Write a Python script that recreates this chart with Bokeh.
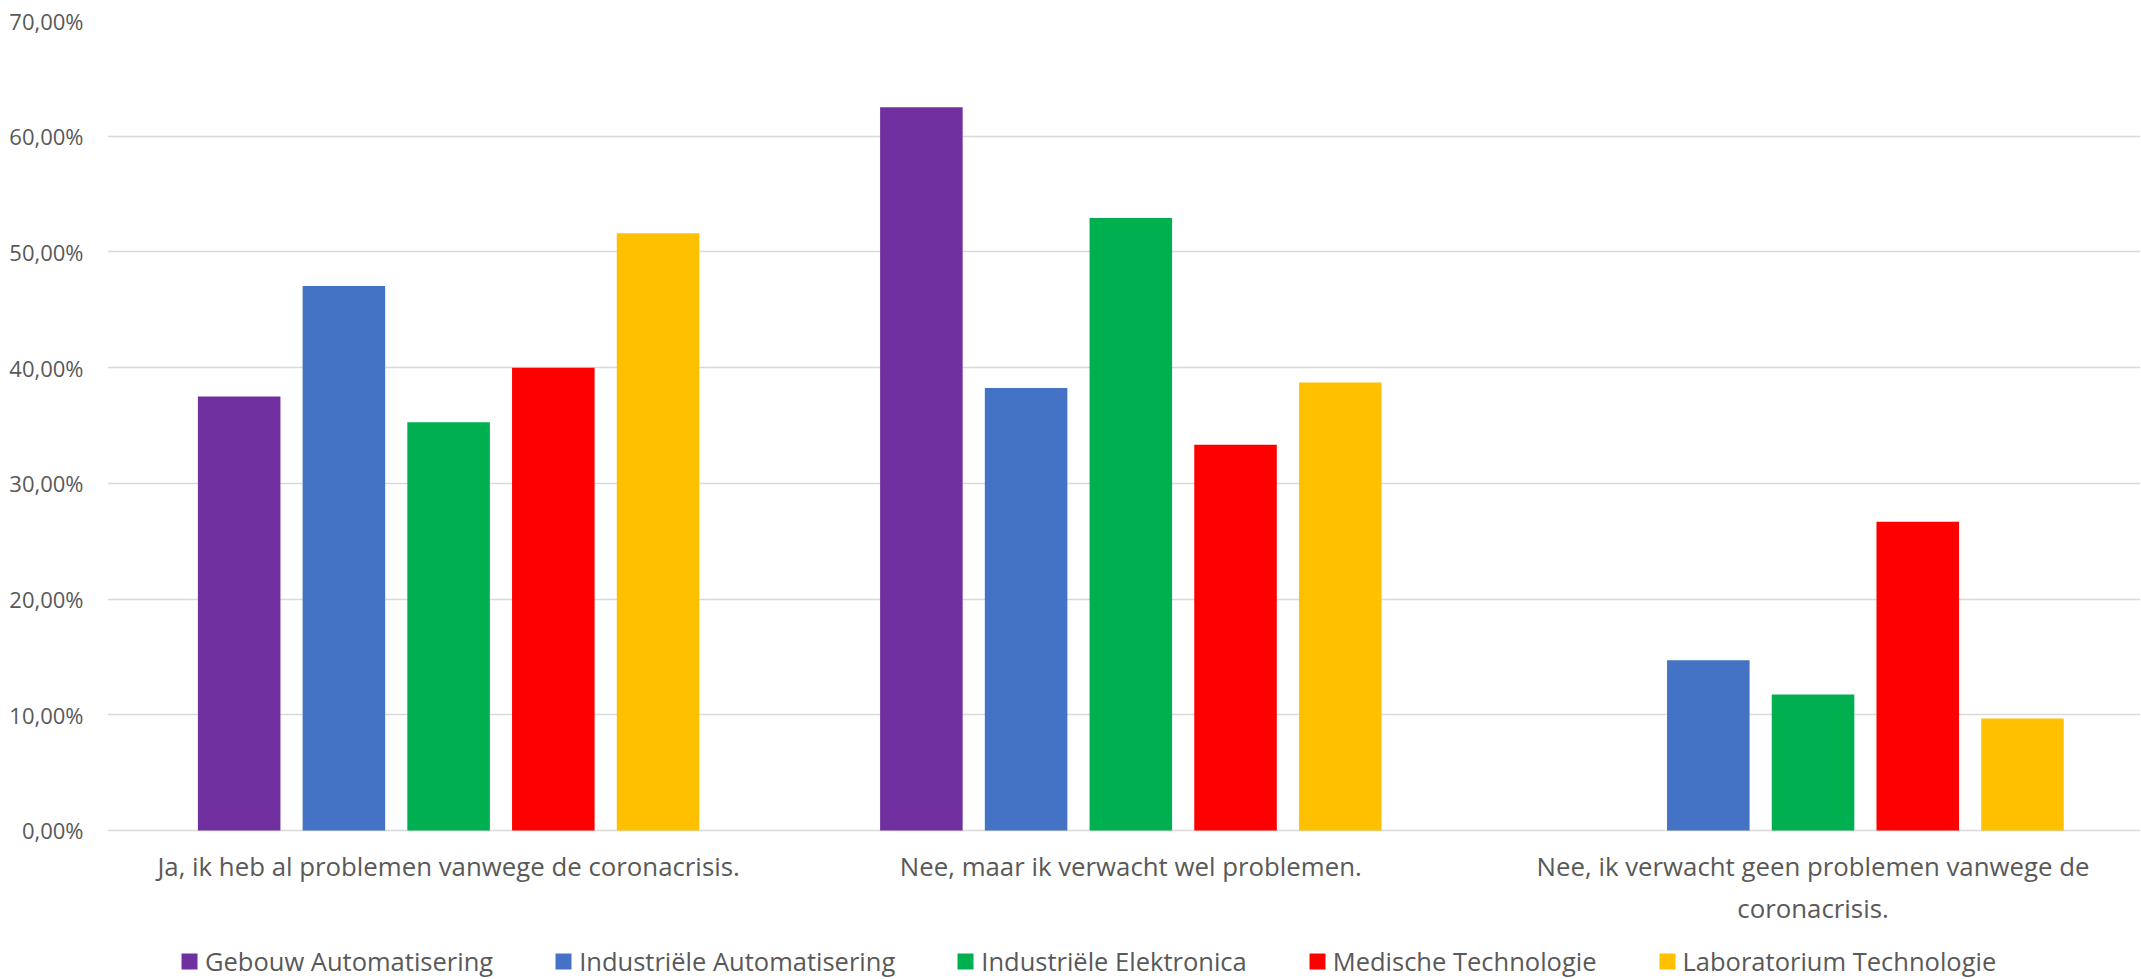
from bokeh.plotting import figure
from bokeh.models import ColumnDataSource, Range1d, FixedTicker, Legend, LegendItem, LinearAxis
from bokeh.transform import dodge
from bokeh.embed import file_html
from bokeh.resources import INLINE

# ---------------- data ----------------
categories = [
    "Ja, ik heb al problemen vanwege de coronacrisis.",
    "Nee, maar ik verwacht wel problemen.",
    "Nee, ik verwacht geen problemen vanwege de\ncoronacrisis.",
]
series_names = [
    "Gebouw Automatisering",
    "Industriële Automatisering",
    "Industriële Elektronica",
    "Medische Technologie",
    "Laboratorium Technologie",
]
gebouw_automatisering = [37.50, 62.50, 0.00]
industriele_automatisering = [47.06, 38.24, 14.71]
industriele_elektronica = [35.29, 52.94, 11.76]
medische_technologie = [40.00, 33.33, 26.67]
laboratorium_technologie = [51.61, 38.71, 9.68]
series_colors = ["#7030A0", "#4472C4", "#00B050", "#FF0000", "#FFC000"]
y_ticks = [0, 10, 20, 30, 40, 50, 60, 70]

series_values = [
    gebouw_automatisering,
    industriele_automatisering,
    industriele_elektronica,
    medische_technologie,
    laboratorium_technologie,
]

# ---------------- layout / style ----------------
FONT = "Open Sans"
TEXT_COLOR = "#595959"
GRID_COLOR = "#D9D9D9"
STEP = 0.1535
BAR_W = 0.121
Y_BOTTOM = -12.88   # room under the 0-line for the category labels and legend

src_data = {"x": [i + 0.5 for i in range(len(categories))]}
keys = []
for k, vals in enumerate(series_values):
    key = f"s{k}"
    keys.append(key)
    src_data[key] = vals
source = ColumnDataSource(src_data)

p = figure(
    width=2140,
    height=979,
    x_range=Range1d(0, 2.980),
    y_range=Range1d(Y_BOTTOM, 70),
    output_backend="svg",
    toolbar_location=None,
    x_axis_location=None,
    min_border_left=107,
    min_border_right=0,
    min_border_top=20,
    min_border_bottom=0,
)
p.outline_line_color = None
p.background_fill_color = "white"
p.border_fill_color = "white"

renderers = []
n = len(series_values)
for k, key in enumerate(keys):
    off = (k - (n - 1) / 2) * STEP
    r = p.vbar(
        x=dodge("x", off, range=p.x_range),
        top=key,
        width=BAR_W,
        source=source,
        fill_color=series_colors[k],
        line_color=None,
    )
    renderers.append(r)

# y axis
p.yaxis.ticker = FixedTicker(ticks=y_ticks)
p.yaxis.major_label_overrides = {t: f"{t:.2f}%".replace(".", ",") for t in y_ticks}
p.yaxis.axis_line_color = None
p.yaxis.major_tick_line_color = None
p.yaxis.minor_tick_line_color = None
p.yaxis.major_tick_out = 0
p.yaxis.major_tick_in = 0
p.yaxis.minor_tick_out = 0
p.yaxis.major_label_text_font = FONT
p.yaxis.major_label_text_font_size = "22px"
p.yaxis.major_label_text_color = TEXT_COLOR
p.yaxis.major_label_standoff = 24

# x axis, pinned to the 0-line
x_ticks = [i + 0.5 for i in range(len(categories))]
xaxis = LinearAxis(
    fixed_location=0,
    ticker=FixedTicker(ticks=x_ticks),
    major_label_overrides={t: c for t, c in zip(x_ticks, categories)},
    axis_line_color=None,
    major_tick_line_color=None,
    minor_tick_line_color=None,
    major_tick_out=0,
    major_tick_in=0,
    minor_tick_out=0,
    major_label_text_font=FONT,
    major_label_text_font_size="25.8px",
    major_label_text_color=TEXT_COLOR,
    major_label_text_line_height=1.15,
    major_label_standoff=18,
)
p.add_layout(xaxis, "below")

# grid
p.xgrid.visible = False
p.ygrid.ticker = FixedTicker(ticks=y_ticks)
p.ygrid.grid_line_color = GRID_COLOR
p.ygrid.grid_line_width = 1.4

# legend
legend = Legend(
    items=[LegendItem(label=nm, renderers=[r]) for nm, r in zip(series_names, renderers)],
    orientation="horizontal",
    location=(72, 1),
    padding=0,
    margin=0,
    spacing=60,
    glyph_width=20,
    glyph_height=20,
    label_standoff=6,
    label_text_font=FONT,
    label_text_font_size="25.5px",
    label_text_color=TEXT_COLOR,
    border_line_color=None,
    background_fill_alpha=0,
)
p.add_layout(legend, "center")

open("out.html", "w").write(file_html(p, INLINE))
